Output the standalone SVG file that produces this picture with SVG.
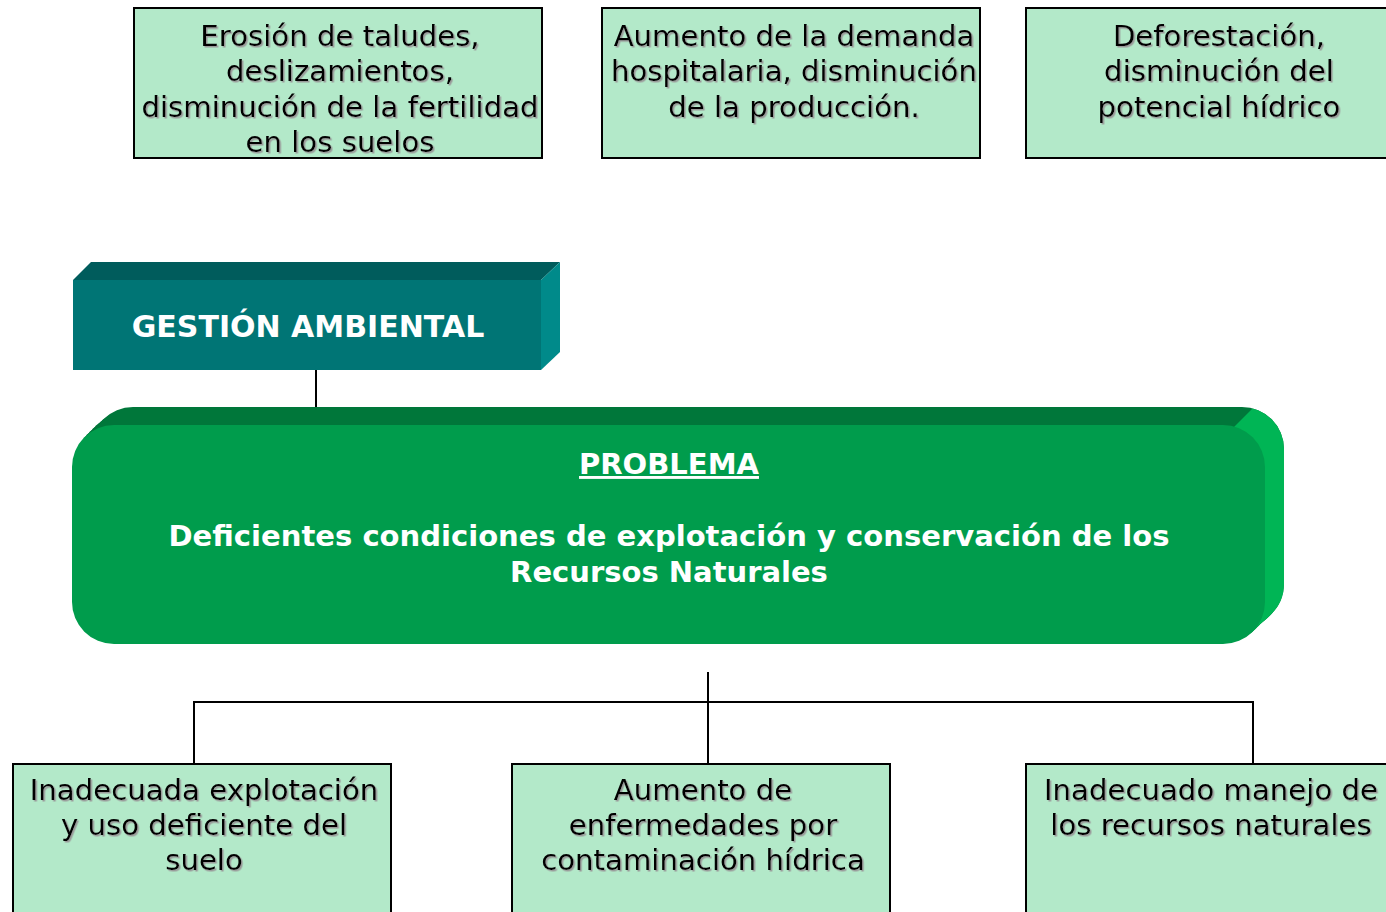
<svg xmlns="http://www.w3.org/2000/svg" width="1386" height="912" viewBox="0 0 1386 912">
<style>
.box{fill:#b3e9c9;stroke:#000;stroke-width:2}
.t{font-family:"DejaVu Sans",Verdana,sans-serif;font-size:29.2px;fill:#000;text-anchor:middle;filter:url(#sh)}
.w{font-family:"DejaVu Sans",Verdana,sans-serif;font-weight:bold;fill:#fff;text-anchor:middle}
.ln{stroke:#000;stroke-width:2;fill:none}
.ext{fill:#00773a}
</style>
<defs>
<filter id="sh" x="-5%" y="-20%" width="110%" height="140%">
<feDropShadow dx="1.5" dy="1.5" stdDeviation="0.4" flood-color="#9a9a9a" flood-opacity="1"/>
</filter>
<rect id="pr" x="72" y="425" width="1193" height="219" rx="42"/>
<clipPath id="pc">
<use href="#pr" transform="translate(3,-3)"/>
<use href="#pr" transform="translate(6,-6)"/>
<use href="#pr" transform="translate(9,-9)"/>
<use href="#pr" transform="translate(12,-12)"/>
<use href="#pr" transform="translate(15,-14)"/>
<use href="#pr" transform="translate(17,-16)"/>
<use href="#pr" transform="translate(19,-18)"/>
</clipPath>
</defs>
<rect width="1386" height="912" fill="#fff"/>

<g id="connectors">
<line class="ln" x1="316" y1="370" x2="316" y2="408"/>
<line class="ln" x1="708" y1="672" x2="708" y2="764"/>
<polyline class="ln" points="194,764 194,702 1253,702 1253,764"/>
</g>

<g id="top1">
<rect class="box" x="134" y="8" width="408" height="150"/>
<text class="t" x="340" y="46">Erosión de taludes,</text>
<text class="t" x="340" y="81">deslizamientos,</text>
<text class="t" x="340" y="117">disminución de la fertilidad</text>
<text class="t" x="340" y="152">en los suelos</text>
</g>
<g id="top2">
<rect class="box" x="602" y="8" width="378" height="150"/>
<text class="t" x="794" y="46">Aumento de la demanda</text>
<text class="t" x="794" y="81">hospitalaria, disminución</text>
<text class="t" x="794" y="117">de la producción.</text>
</g>
<g id="top3">
<rect class="box" x="1026" y="8" width="390" height="150"/>
<text class="t" x="1219" y="46">Deforestación,</text>
<text class="t" x="1219" y="81">disminución del</text>
<text class="t" x="1219" y="117">potencial hídrico</text>
</g>

<g id="gestion">
<polygon points="73,280 91,262 560,262 541,280" fill="#005c5c"/>
<polygon points="541,280 560,262 560,352 541,370" fill="#008a8a"/>
<rect x="73" y="280" width="468" height="90" fill="#007575"/>
<text class="w" x="308" y="337" font-size="30">GESTIÓN AMBIENTAL</text>
</g>

<g id="problema">
<g class="ext">
<use href="#pr" transform="translate(3,-3)"/>
<use href="#pr" transform="translate(6,-6)"/>
<use href="#pr" transform="translate(9,-9)"/>
<use href="#pr" transform="translate(12,-12)"/>
<use href="#pr" transform="translate(15,-14)"/>
<use href="#pr" transform="translate(17,-16)"/>
<use href="#pr" transform="translate(19,-18)"/>
</g>
<polygon points="1254,407 1400,407 1400,700 961,700" fill="#00b555" clip-path="url(#pc)"/>
<use href="#pr" fill="#009c4c"/>
<text class="w" x="669" y="474" font-size="29" text-decoration="underline">PROBLEMA</text>
<text class="w" x="669" y="546" font-size="28" textLength="1001" lengthAdjust="spacingAndGlyphs">Deficientes condiciones de explotación y conservación de los</text>
<text class="w" x="669" y="582" font-size="29">Recursos Naturales</text>
</g>

<g id="bot1">
<rect class="box" x="13" y="764" width="378" height="160"/>
<text class="t" x="204" y="800">Inadecuada explotación</text>
<text class="t" x="204" y="835">y uso deficiente del</text>
<text class="t" x="204" y="870">suelo</text>
</g>
<g id="bot2">
<rect class="box" x="512" y="764" width="378" height="160"/>
<text class="t" x="703" y="800">Aumento de</text>
<text class="t" x="703" y="835">enfermedades por</text>
<text class="t" x="703" y="870">contaminación hídrica</text>
</g>
<g id="bot3">
<rect class="box" x="1026" y="764" width="380" height="160"/>
<text class="t" x="1211" y="800">Inadecuado manejo de</text>
<text class="t" x="1211" y="835">los recursos naturales</text>
</g>
</svg>
